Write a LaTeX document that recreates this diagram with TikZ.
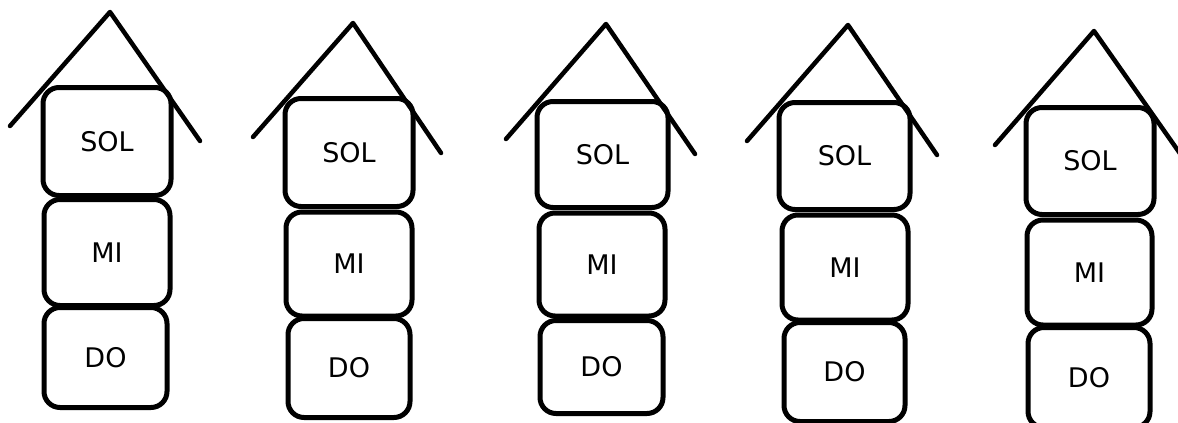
\documentclass[tikz,border=0pt]{standalone}
\usepackage{fontspec}
\setmainfont{DejaVu Sans}
\begin{document}
\begin{tikzpicture}[x=1pt,y=-1pt,
  note/.style={draw,line width=5pt,rounded corners=16pt,inner sep=0pt,font=\fontsize{27}{32}\selectfont},
  roof/.style={line width=4.5pt,line cap=round,line join=round}]
\useasboundingbox (0,0) rectangle (1178,423);

% house 1
\node[note,minimum width=128pt,minimum height=108pt](sol1) at (107,141.5) {SOL};
\node[note,minimum width=126pt,minimum height=106pt](mi1) at (107,252.5) {MI};
\node[note,minimum width=123pt,minimum height=100pt](do1) at (105.5,357.5) {DO};
\coordinate (top1) at (110,12);
\coordinate (left1) at (10,126);
\coordinate (right1) at (200,141);
\draw[roof] (left1) -- (top1) -- (right1);

% house 2
\node[note,minimum width=128pt,minimum height=108pt](sol2) at (349,152.5) {SOL};
\node[note,minimum width=126pt,minimum height=104pt](mi2) at (349,264) {MI};
\node[note,minimum width=122pt,minimum height=99pt](do2) at (349,368) {DO};
\coordinate (top2) at (353,23);
\coordinate (left2) at (253,137);
\coordinate (right2) at (441,153);
\draw[roof] (left2) -- (top2) -- (right2);

% house 3
\node[note,minimum width=131pt,minimum height=106pt](sol3) at (602.5,154.5) {SOL};
\node[note,minimum width=126pt,minimum height=103pt](mi3) at (602,264.5) {MI};
\node[note,minimum width=123pt,minimum height=93pt](do3) at (601.5,367) {DO};
\coordinate (top3) at (606,24);
\coordinate (left3) at (506,139);
\coordinate (right3) at (695,154);
\draw[roof] (left3) -- (top3) -- (right3);

% house 4
\node[note,minimum width=131pt,minimum height=107pt](sol4) at (844.5,156) {SOL};
\node[note,minimum width=126pt,minimum height=105pt](mi4) at (845,267.5) {MI};
\node[note,minimum width=121pt,minimum height=99pt](do4) at (844.5,372) {DO};
\coordinate (top4) at (848,25);
\coordinate (left4) at (747,141);
\coordinate (right4) at (937,155);
\draw[roof] (left4) -- (top4) -- (right4);

% house 5
\node[note,minimum width=128pt,minimum height=107pt](sol5) at (1090,161) {SOL};
\node[note,minimum width=125pt,minimum height=105pt](mi5) at (1089.5,272.5) {MI};
\node[note,minimum width=122pt,minimum height=100pt](do5) at (1089,377.5) {DO};
\coordinate (top5) at (1094,31);
\coordinate (left5) at (995,145);
\coordinate (right5) at (1186,162);
\draw[roof] (left5) -- (top5) -- (right5);
\end{tikzpicture}
\end{document}
